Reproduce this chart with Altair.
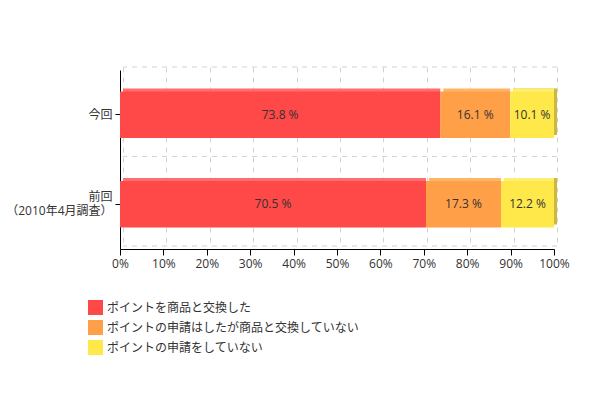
import altair as alt
import pandas as pd

periods = ["今回", "前回\n（2010年4月調査）"]
categories = [
    "ポイントを商品と交換した",
    "ポイントの申請はしたが商品と交換していない",
    "ポイントの申請をしていない",
]
values_now = [73.8, 16.1, 10.1]
values_prev = [70.5, 17.3, 12.2]
x_ticks = [0, 10, 20, 30, 40, 50, 60, 70, 80, 90, 100]

main_colors = ["#FF4848", "#FFA048", "#FFE84A"]
top_colors = ["#FF6E6E", "#FFB466", "#FFEE72"]
side_color = "#CDB83E"
FONT = "Open Sans, Noto Sans CJK JP"
JFONT = "Noto Sans CJK JP"
GRID = "#D3D3D3"

rows = []
for p, vals in zip(periods, [values_now, values_prev]):
    for i, (c, v) in enumerate(zip(categories, vals)):
        rows.append({"period": p, "category": c, "idx": i, "value": v})
df = pd.DataFrame(rows)

base = (
    alt.Chart(df)
    .transform_stack(
        stack="value",
        groupby=["period"],
        as_=["v0", "v1"],
        sort=[alt.SortField("idx", order="ascending")],
    )
    .transform_calculate(
        mid="(datum.v0 + datum.v1) / 2",
        lbl="format(datum.value, '.1f') + ' %'",
    )
)

xscale = alt.Scale(domain=[0, 100], nice=False, zero=True)
yscale = alt.Scale(domain=periods, paddingInner=0.48, paddingOuter=0.24)

# horizontal dashed grid lines at the band boundaries (back plane)
grid_start = base.transform_filter("datum.idx == 0").mark_rule(
    strokeDash=[5, 5], color=GRID, yOffset=-21.5
).encode(y=alt.Y("period:N", scale=yscale, bandPosition=0, axis=None))

grid_end = (
    base.transform_filter("datum.idx == 0")
    .transform_filter(alt.FieldEqualPredicate(field="period", equal=periods[-1]))
    .mark_rule(strokeDash=[5, 5], color=GRID, yOffset=21.5)
    .encode(y=alt.Y("period:N", scale=yscale, bandPosition=1, axis=None))
)

# dark right side of the last segment (back plane)
side = base.transform_filter("datum.idx == 2").mark_bar(color=side_color).encode(
    x=alt.X("v0:Q", scale=xscale, axis=None),
    x2="v1:Q",
    y=alt.Y("period:N", scale=yscale, axis=None),
)

# lighter top faces (back plane) + vertical grid
top = base.mark_bar(x2Offset=-3).encode(
    x=alt.X(
        "v0:Q",
        scale=xscale,
        axis=alt.Axis(
            orient="top", grid=True, labels=False, ticks=False, domain=False,
            values=x_ticks, gridDash=[5, 5], gridColor=GRID, title=None,
        ),
    ),
    x2="v1:Q",
    y=alt.Y("period:N", scale=yscale, axis=None),
    color=alt.Color(
        "category:N",
        scale=alt.Scale(domain=categories, range=top_colors),
        legend=None,
    ),
)

# front faces
front = base.mark_bar(xOffset=-3, x2Offset=-3, yOffset=3, y2Offset=3).encode(
    x=alt.X(
        "v0:Q",
        scale=xscale,
        axis=alt.Axis(
            orient="bottom", values=x_ticks, labelExpr="datum.value + '%'",
            grid=False, translate=-2.5, offset=6, tickSize=6, tickColor="#000",
            domainColor="#000", labelFont=FONT, labelFontSize=12,
            labelColor="#333", labelPadding=3, labelFlush=False, title=None,
        ),
    ),
    x2="v1:Q",
    y=alt.Y(
        "period:N",
        scale=yscale,
        axis=alt.Axis(
            orient="left", grid=False, translate=3.5, offset=6, tickSize=5,
            tickColor="#000", domainColor="#000", labelFont=FONT,
            labelFontSize=12, labelColor="#333", labelPadding=3,
            labelLineHeight=14, labelExpr="split(datum.label, '\\n')",
            labelOffset={
                "condition": {"test": "indexof(datum.label, '\\n') >= 0", "value": -7},
                "value": 0,
            },
            title=None,
        ),
    ),
    color=alt.Color(
        "category:N",
        scale=alt.Scale(domain=categories, range=main_colors),
        legend=alt.Legend(
            orient="none", legendX=-35, legendY=233, title=None,
            symbolType="square", symbolSize=225, symbolStrokeWidth=0,
            symbolOpacity=1, labelFont=JFONT, labelFontSize=12,
            labelColor="#333", labelLimit=400, rowPadding=5, labelOffset=4,
            padding=0,
        ),
    ),
)

text = base.mark_text(
    xOffset=-3, yOffset=3, font=FONT, fontSize=12, color="#333"
).encode(
    x=alt.X("mid:Q", scale=xscale, axis=None),
    y=alt.Y("period:N", scale=yscale, axis=None),
    text="lbl:N",
)

chart = (
    alt.layer(grid_start, grid_end, side, top, front, text)
    .resolve_scale(color="independent")
    .resolve_axis(x="independent", y="independent")
    .properties(
        width=434,
        height=179,
        padding={"left": 115, "top": 59, "right": 33, "bottom": 144},
        autosize=alt.AutoSizeParams(type="none"),
    )
    .configure_view(stroke=None)
)

chart.save("out.html", embed_options={"renderer": "svg", "actions": False})
